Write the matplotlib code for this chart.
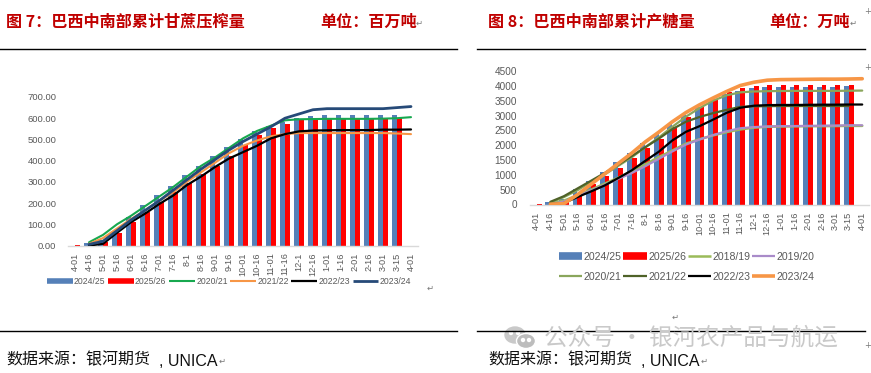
import matplotlib
matplotlib.use("Agg")
import matplotlib.pyplot as plt
from matplotlib.lines import Line2D
from matplotlib.patches import Ellipse
import numpy as np

W, H = 871, 373

dates = ["4-01", "4-16", "5-01", "5-16", "6-01", "6-16", "7-01", "7-16", "8-1", "8-16", "9-01", "9-16",
         "10-01", "10-16", "11-01", "11-16", "12-1", "12-16", "1-01", "1-16", "2-01", "2-16", "3-01", "3-15", "4-01"]

# figure 7: crush, million tons
crush_2425 = [None, 13, 24, 68, 133, 189, 236, 280, 330, 376, 420, 464, 503, 538, 563, 582, 600, 610, 613, 613, 613, 613, 613, 616, None]
crush_2526 = [2, 5, 15, 60, 110, 160, 205, 250, 295, 335, 375, 420, 475, 522, 555, 575, 590, 596, 600, 600, 600, 600, 603, 600, None]
crush_2021 = [None, 15, 50, 100, 140, 185, 230, 275, 325, 375, 415, 460, 505, 540, 565, 590, 595, 596, 597, 597, 597, 597, 598, 600, 605]
crush_2122 = [None, 8, 35, 80, 125, 165, 210, 250, 300, 345, 390, 435, 470, 495, 515, 525, 530, 530, 530, 530, 530, 530, 530, 528, 525]
crush_2223 = [None, 0, 8, 60, 110, 150, 195, 235, 285, 325, 370, 410, 440, 470, 505, 525, 538, 542, 543, 544, 544, 544, 546, 546, 547]
crush_2324 = [None, 5, 20, 70, 120, 165, 210, 260, 310, 360, 405, 450, 490, 525, 560, 600, 620, 640, 645, 645, 645, 645, 645, 650, 655]

# figure 8: sugar, 10k tons
sugar_2425 = [None, 70, 180, 510, 780, 1100, 1420, 1720, 2060, 2380, 2700, 3030, 3300, 3550, 3730, 3830, 3920, 3960, 3970, 3970, 3970, 3970, 3970, 3990, None]
sugar_2526 = [30, 20, 100, 370, 680, 950, 1220, 1560, 1900, 2200, 2600, 2950, 3270, 3570, 3780, 3930, 3990, 4020, 4020, 4020, 4020, 4020, 4020, 4020, None]
sugar_1819 = [None, 20, 130, 310, 500, 700, 900, 1120, 1350, 1600, 1820, 2050, 2200, 2330, 2440, 2530, 2590, 2620, 2630, 2635, 2640, 2640, 2645, 2650, 2650]
sugar_1920 = [None, 10, 100, 280, 470, 660, 860, 1060, 1290, 1540, 1790, 2020, 2190, 2340, 2470, 2570, 2610, 2630, 2640, 2645, 2650, 2655, 2660, 2670, 2670]
sugar_2021 = [None, 60, 250, 480, 760, 1010, 1300, 1590, 1930, 2260, 2620, 2960, 3250, 3500, 3680, 3780, 3810, 3820, 3825, 3830, 3830, 3830, 3830, 3835, 3840]
sugar_2122 = [None, 90, 280, 540, 800, 1060, 1340, 1630, 1930, 2220, 2540, 2790, 2950, 3080, 3190, 3290, 3310, 3315, 3320, 3320, 3320, 3320, 3320, 3320, None]
sugar_2223 = [None, 10, 50, 250, 440, 640, 890, 1150, 1470, 1780, 2160, 2450, 2640, 2860, 3090, 3260, 3330, 3350, 3355, 3355, 3360, 3365, 3365, 3370, 3370]
sugar_2324 = [None, 10, 30, 330, 680, 1030, 1380, 1730, 2110, 2440, 2790, 3100, 3360, 3590, 3810, 4010, 4120, 4190, 4210, 4215, 4220, 4225, 4225, 4230, 4240]

BLUE = "#5580b8"
RED = "#ff0000"
GREY = "#595959"
CJK = ["Noto Sans CJK SC", "DejaVu Sans"]

plt.rcParams["font.family"] = ["Liberation Sans", "DejaVu Sans"]
fig = plt.figure(figsize=(W / 100, H / 100), dpi=100)


def fx(x):
    return x / W


def fy(y):
    return 1 - y / H


def to_arr(vals):
    return np.array([np.nan if v is None else v for v in vals], dtype=float)


def make_axes(left, right, top, bottom):
    return fig.add_axes([fx(left), fy(bottom), fx(right - left), (bottom - top) / H])


def draw_chart(ax, bars, lines, yticks, fmt, ypad, tick_size):
    x = np.arange(len(dates))
    w = 0.36
    ax.bar(x - w / 2, to_arr(bars[0]), w, color=BLUE, zorder=2)
    ax.bar(x + w / 2, to_arr(bars[1]), w, color=RED, zorder=2)
    for vals, color, lw in lines:
        ax.plot(x, to_arr(vals), color=color, lw=lw, solid_capstyle="round", zorder=3)
    ax.set_xlim(-0.5, len(dates) - 0.5)
    ax.set_ylim(0, yticks[-1])
    ax.set_yticks(yticks)
    ax.set_yticklabels([fmt % t for t in yticks], color=GREY, fontsize=tick_size)
    ax.set_xticks(x)
    ax.set_xticklabels(dates, rotation=90, color=GREY, fontsize=6.6)
    ax.tick_params(axis="both", length=0)
    ax.tick_params(axis="y", pad=ypad)
    ax.tick_params(axis="x", pad=5)
    for s in ["top", "right", "left"]:
        ax.spines[s].set_visible(False)
    ax.spines["bottom"].set_color("#d9d9d9")
    ax.spines["bottom"].set_linewidth(1.0)
    ax.patch.set_alpha(0)


def handle(color, lw):
    return Line2D([], [], color=color, lw=lw, solid_capstyle="butt")


# left chart
ax1 = make_axes(68, 418, 97, 245.5)
lines1 = [(crush_2021, "#17a84f", 1.5), (crush_2122, "#f79646", 1.5),
          (crush_2223, "#000000", 1.6), (crush_2324, "#264a78", 2.0)]
draw_chart(ax1, (crush_2425, crush_2526), lines1, [0, 100, 200, 300, 400, 500, 600, 700], "%.2f", 8.5, 6.8)

names1 = ["2024/25", "2025/26", "2020/21", "2021/22", "2022/23", "2023/24"]
handles1 = [handle(BLUE, 4), handle(RED, 4)]
handles1 += [handle(c, lw) for _, c, lw in lines1]
fig.legend(handles1, names1, ncol=6, frameon=False, fontsize=6.2, labelcolor=GREY,
           loc="center", bbox_to_anchor=(fx(229), fy(281.5)), handlelength=3.0,
           handletextpad=0.15, columnspacing=0.3, borderpad=0)

# right chart
ax2 = make_axes(530, 869, 71, 204.5)
lines2 = [(sugar_1819, "#9bbb59", 1.8), (sugar_1920, "#a98bc9", 1.6), (sugar_2021, "#8aa65c", 1.6),
          (sugar_2122, "#4f6228", 1.6), (sugar_2223, "#000000", 1.6), (sugar_2324, "#f79646", 2.6)]
draw_chart(ax2, (sugar_2425, sugar_2526), lines2, [0, 500, 1000, 1500, 2000, 2500, 3000, 3500, 4000, 4500], "%d", 9.5, 7.2)

names2 = ["2024/25", "2020/21", "2025/26", "2021/22", "2018/19", "2022/23", "2019/20", "2023/24"]
handles2 = [handle(BLUE, 5.5), handle(lines2[2][1], lines2[2][2]),
            handle(RED, 5.5), handle(lines2[3][1], lines2[3][2]),
            handle(lines2[0][1], lines2[0][2]), handle(lines2[4][1], lines2[4][2]),
            handle(lines2[1][1], lines2[1][2]), handle(lines2[5][1], lines2[5][2])]
fig.legend(handles2, names2, ncol=4, frameon=False, fontsize=7.6, labelcolor=GREY,
           loc="center", bbox_to_anchor=(fx(687), fy(267)), handlelength=2.2,
           handletextpad=0.15, columnspacing=0.15, labelspacing=0.95, borderpad=0)

# headings
head = dict(family=CJK, fontsize=11.6, fontweight="bold", color="#c00000", va="center")
fig.text(fx(6), fy(22), "图 7：巴西中南部累计甘蔗压榨量", **head)
fig.text(fx(320), fy(22), "单位：百万吨", **head)
fig.text(fx(488), fy(22), "图 8：巴西中南部累计产糖量", **head)
fig.text(fx(769), fy(22), "单位：万吨", **head)

for x in [6, 488]:
    fig.text(fx(x), fy(360), "数据来源：银河期货", family=CJK, fontsize=11.5, color="#111111", va="center")
    fig.text(fx(x + 153), fy(361), ", UNICA", fontsize=11.5, color="#111111", va="center")

# rules
for x0, x1, y in [(0, 457, 49), (477, 865, 49), (0, 457, 331), (477, 865, 331)]:
    fig.add_artist(Line2D([fx(x0), fx(x1)], [fy(y), fy(y)], color="black", lw=1.0))

# paragraph marks
for x, y in [(419, 23), (853, 23), (430, 288), (675, 317), (222, 361), (704, 361)]:
    fig.text(fx(x), fy(y), "\u21b5", family="DejaVu Sans", fontsize=6, color="#777777", va="center", ha="center")
for x, y in [(868, 11), (868, 67), (868, 346)]:
    fig.text(fx(x), fy(y), "+", family="DejaVu Sans", fontsize=6, color="#777777", va="center", ha="center")

# watermark
fig.text(fx(544), fy(338), "公众号 · 银河农产品与航运", family=CJK, fontsize=17, color="#c9c9c9", va="center")
fig.add_artist(Ellipse((fx(515), fy(335)), 20 / W, 16 / H, color="#c9c9c9", transform=fig.transFigure))
fig.add_artist(Ellipse((fx(526), fy(341)), 19 / W, 15 / H, fc="#bdbdbd", ec="white", lw=1, transform=fig.transFigure))
for x, y in [(511, 333), (518, 333), (523, 340), (529, 340)]:
    fig.add_artist(Ellipse((fx(x), fy(y)), 3 / W, 3 / H, color="white", transform=fig.transFigure))

fig.savefig("out.png", dpi=100)
